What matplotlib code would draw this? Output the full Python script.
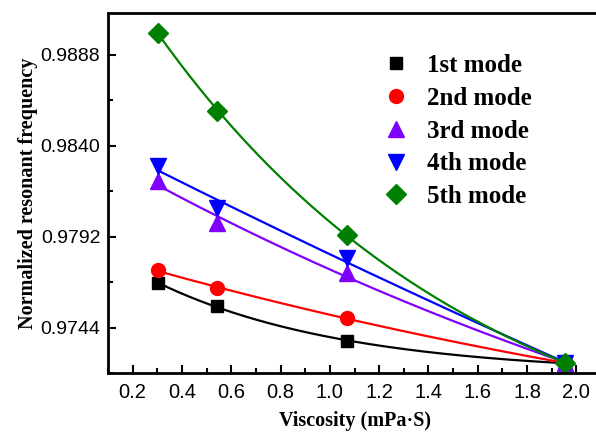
import numpy as np
import matplotlib
matplotlib.use("Agg")
import matplotlib.pyplot as plt
from matplotlib.ticker import MultipleLocator, FormatStrFormatter
from matplotlib.lines import Line2D

# viscosity (mPa·S)
viscosity = [0.304, 0.541, 1.07, 1.955]

mode1 = [0.97674, 0.97551, 0.97370, 0.97252]
mode2 = [0.97741, 0.97648, 0.97490, 0.97252]
mode3 = [0.98211, 0.97991, 0.97727, 0.97252]
mode4 = [0.98294, 0.98071, 0.97806, 0.97252]
mode5 = [0.98995, 0.98581, 0.97930, 0.97252]

labels = ["1st mode", "2nd mode", "3rd mode", "4th mode", "5th mode"]
colors = ["black", "#ff0000", "#8000ff", "#0000ff", "#008000"]
markers = ["s", "o", "^", "v", "D"]
msizes = [9, 10, 11, 11, 10]


def expdec_fit(x, y, xs):
    """y = y0 + A*exp(-x/t), grid over t with linear least squares"""
    x = np.asarray(x); y = np.asarray(y)
    best = None
    for t in np.linspace(0.1, 20, 2000):
        M = np.column_stack([np.ones_like(x), np.exp(-x / t)])
        coef, *_ = np.linalg.lstsq(M, y, rcond=None)
        err = np.sum((M @ coef - y) ** 2)
        if best is None or err < best[0]:
            best = (err, t, coef)
    _, t, coef = best
    return coef[0] + coef[1] * np.exp(-xs / t)


fig = plt.figure(figsize=(5.96, 4.32), dpi=100)
ax = fig.add_axes([108 / 596, 1 - 373 / 432, 493 / 596, 360 / 432])

xs = np.linspace(min(viscosity), max(viscosity), 200)
handles = []
for ys, c, m, ms, lab in zip([mode1, mode2, mode3, mode4, mode5],
                             colors, markers, msizes, labels):
    ax.plot(xs, expdec_fit(viscosity, ys, xs), color=c, lw=1.6)
    ax.plot(viscosity, ys, ls="none", marker=m, ms=ms, color=c)
    handles.append(Line2D([], [], ls="none", marker=m, ms=ms, color=c, label=lab))

ax.set_xlim(0.1, 2.1)
ax.set_ylim(0.972, 0.991)
ax.xaxis.set_major_locator(MultipleLocator(0.2))
ax.xaxis.set_minor_locator(MultipleLocator(0.1))
ax.xaxis.set_major_formatter(FormatStrFormatter("%.1f"))
ax.set_yticks([0.9744, 0.9792, 0.9840, 0.9888])
ax.set_yticks([0.9720, 0.9768, 0.9816, 0.9864], minor=True)
ax.yaxis.set_major_formatter(FormatStrFormatter("%.4f"))

ax.tick_params(which="both", direction="in", width=1.5, top=False, right=False)
ax.tick_params(which="major", length=6)
ax.tick_params(which="minor", length=3.5)
ax.tick_params(axis="x", labelsize=14.5, pad=7)
ax.tick_params(axis="y", labelsize=14, pad=5.5)
for lab in ax.get_xticklabels() + ax.get_yticklabels():
    lab.set_fontfamily("Liberation Sans")
for s in ax.spines.values():
    s.set_linewidth(2)
ax.spines["right"].set_visible(False)

tfont = {"family": "Liberation Serif", "weight": "bold", "size": 14.5}
ax.set_xlabel("Viscosity (mPa·S)", fontdict=tfont, labelpad=7)
ax.set_ylabel("Normalized resonant frequency", fontdict=tfont, labelpad=2)

ax.legend(handles=handles, loc="upper left", bbox_to_anchor=(0.508, 0.948),
          frameon=False, prop={"family": "Liberation Serif", "weight": "bold", "size": 18},
          handletextpad=0.64, labelspacing=0.39, handlelength=1.2)

fig.savefig("out.png", dpi=100)
